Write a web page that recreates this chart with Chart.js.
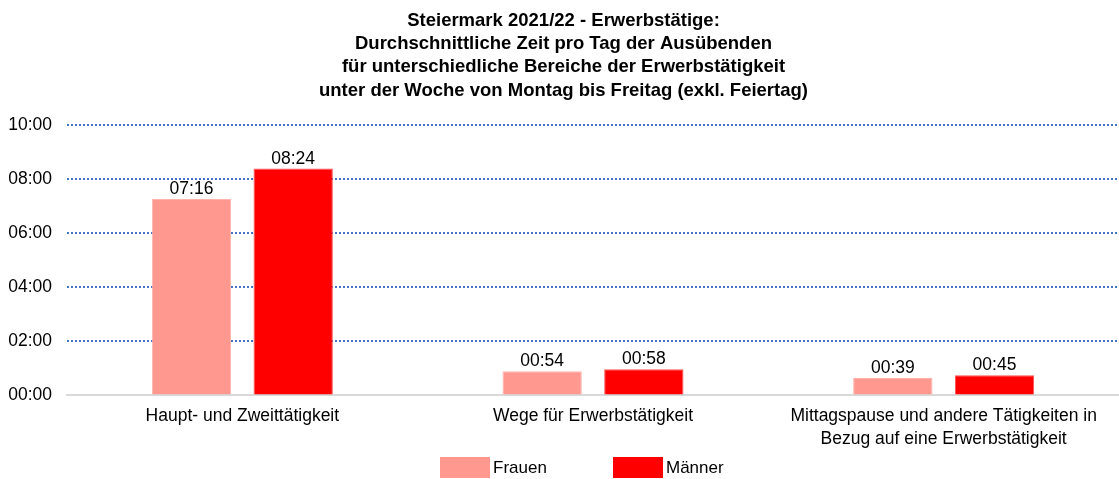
<!DOCTYPE html>
<html>
<head>
<meta charset="utf-8">
<script src="https://cdn.jsdelivr.net/npm/chart.js@4"></script>
<style>
  html, body { margin: 0; padding: 0; background: #fff; }
  #wrap { width: 1119px; height: 479px; }
</style>
</head>
<body>
<div id="wrap"><canvas id="chart"></canvas></div>
<script>
// Data (minutes per day)
const categories = [
  'Haupt- und Zweittätigkeit',
  'Wege für Erwerbstätigkeit',
  ['Mittagspause und andere Tätigkeiten in', 'Bezug auf eine Erwerbstätigkeit']
];
const frauenMin = [436, 54, 39];
const maennerMin = [504, 58, 45];
const yTicks = ['00:00', '02:00', '04:00', '06:00', '08:00', '10:00'];
const seriesNames = ['Frauen', 'Männer'];

const titleLines = [
  'Steiermark 2021/22 - Erwerbstätige:',
  'Durchschnittliche Zeit pro Tag der Ausübenden',
  'für unterschiedliche Bereiche der Erwerbstätigkeit',
  'unter der Woche von Montag bis Freitag (exkl. Feiertag)'
];

const FONT = 'Arial, "Liberation Sans", sans-serif';
Chart.defaults.font.family = FONT;
Chart.defaults.color = '#000';

function fmt(min) {
  const h = Math.floor(min / 60), m = Math.round(min % 60);
  return String(h).padStart(2, '0') + ':' + String(m).padStart(2, '0');
}

// value labels above each bar
const barLabels = {
  id: 'barLabels',
  afterDatasetsDraw(chart) {
    const c = chart.ctx;
    c.save();
    c.font = '17.5px ' + FONT;
    c.fillStyle = '#000';
    c.textAlign = 'center';
    c.textBaseline = 'bottom';
    chart.data.datasets.forEach((ds, i) => {
      chart.getDatasetMeta(i).data.forEach((bar, j) => {
        c.fillText(fmt(ds.minutes[j]), bar.x, bar.y - 1);
      });
    });
    c.restore();
  }
};

// legend drawn by hand (wide gap between the two entries)
const bottomLegend = {
  id: 'bottomLegend',
  afterDraw(chart) {
    const c = chart.ctx;
    const boxX = [440, 613];
    c.save();
    c.font = '17px ' + FONT;
    c.textBaseline = 'middle';
    c.textAlign = 'left';
    chart.data.datasets.forEach((ds, i) => {
      c.fillStyle = ds.backgroundColor;
      c.fillRect(boxX[i], 457, 50, 21);
      c.fillStyle = '#000';
      c.fillText(seriesNames[i], boxX[i] + 53, 468);
    });
    c.restore();
  }
};

new Chart(document.getElementById('chart'), {
  type: 'bar',
  data: {
    labels: categories,
    datasets: [
      {
        label: seriesNames[0],
        minutes: frauenMin,
        data: frauenMin.map(v => v / 60),
        backgroundColor: '#FF9990',
        borderColor: '#FFB3AD',
        borderWidth: 1
      },
      {
        label: seriesNames[1],
        minutes: maennerMin,
        data: maennerMin.map(v => v / 60),
        backgroundColor: '#FF0000',
        borderColor: '#FF5050',
        borderWidth: 1
      }
    ]
  },
  options: {
    responsive: true,
    maintainAspectRatio: false,
    animation: false,
    categoryPercentage: 0.58,
    barPercentage: 0.78,
    layout: { padding: { left: 8, right: 0, top: 0, bottom: 27 } },
    plugins: {
      title: {
        display: true,
        text: titleLines,
        font: { size: 18.5, weight: 'bold', lineHeight: 1.26 },
        padding: { top: 9, bottom: 23 },
        color: '#000'
      },
      legend: { display: false },
      tooltip: { enabled: false }
    },
    scales: {
      x: {
        grid: { display: false },
        border: { display: true, color: '#D9D9D9', width: 2 },
        ticks: { font: { size: 17.5, lineHeight: 1.33 }, color: '#000', padding: 1, maxRotation: 0 }
      },
      y: {
        min: 0,
        max: 10,
        afterFit: s => { s.width = 59; },
        ticks: {
          stepSize: 2,
          font: { size: 17.5 },
          color: '#000',
          padding: 15,
          callback: (v, i) => yTicks[i]
        },
        grid: {
          drawTicks: false,
          lineWidth: 2,
          color: ctx => ctx.tick && ctx.tick.value === 0 ? 'rgba(0,0,0,0)' : '#4472C4'
        },
        border: { display: false, dash: [2, 2] }
      }
    }
  },
  plugins: [barLabels, bottomLegend]
});
</script>
</body>
</html>
